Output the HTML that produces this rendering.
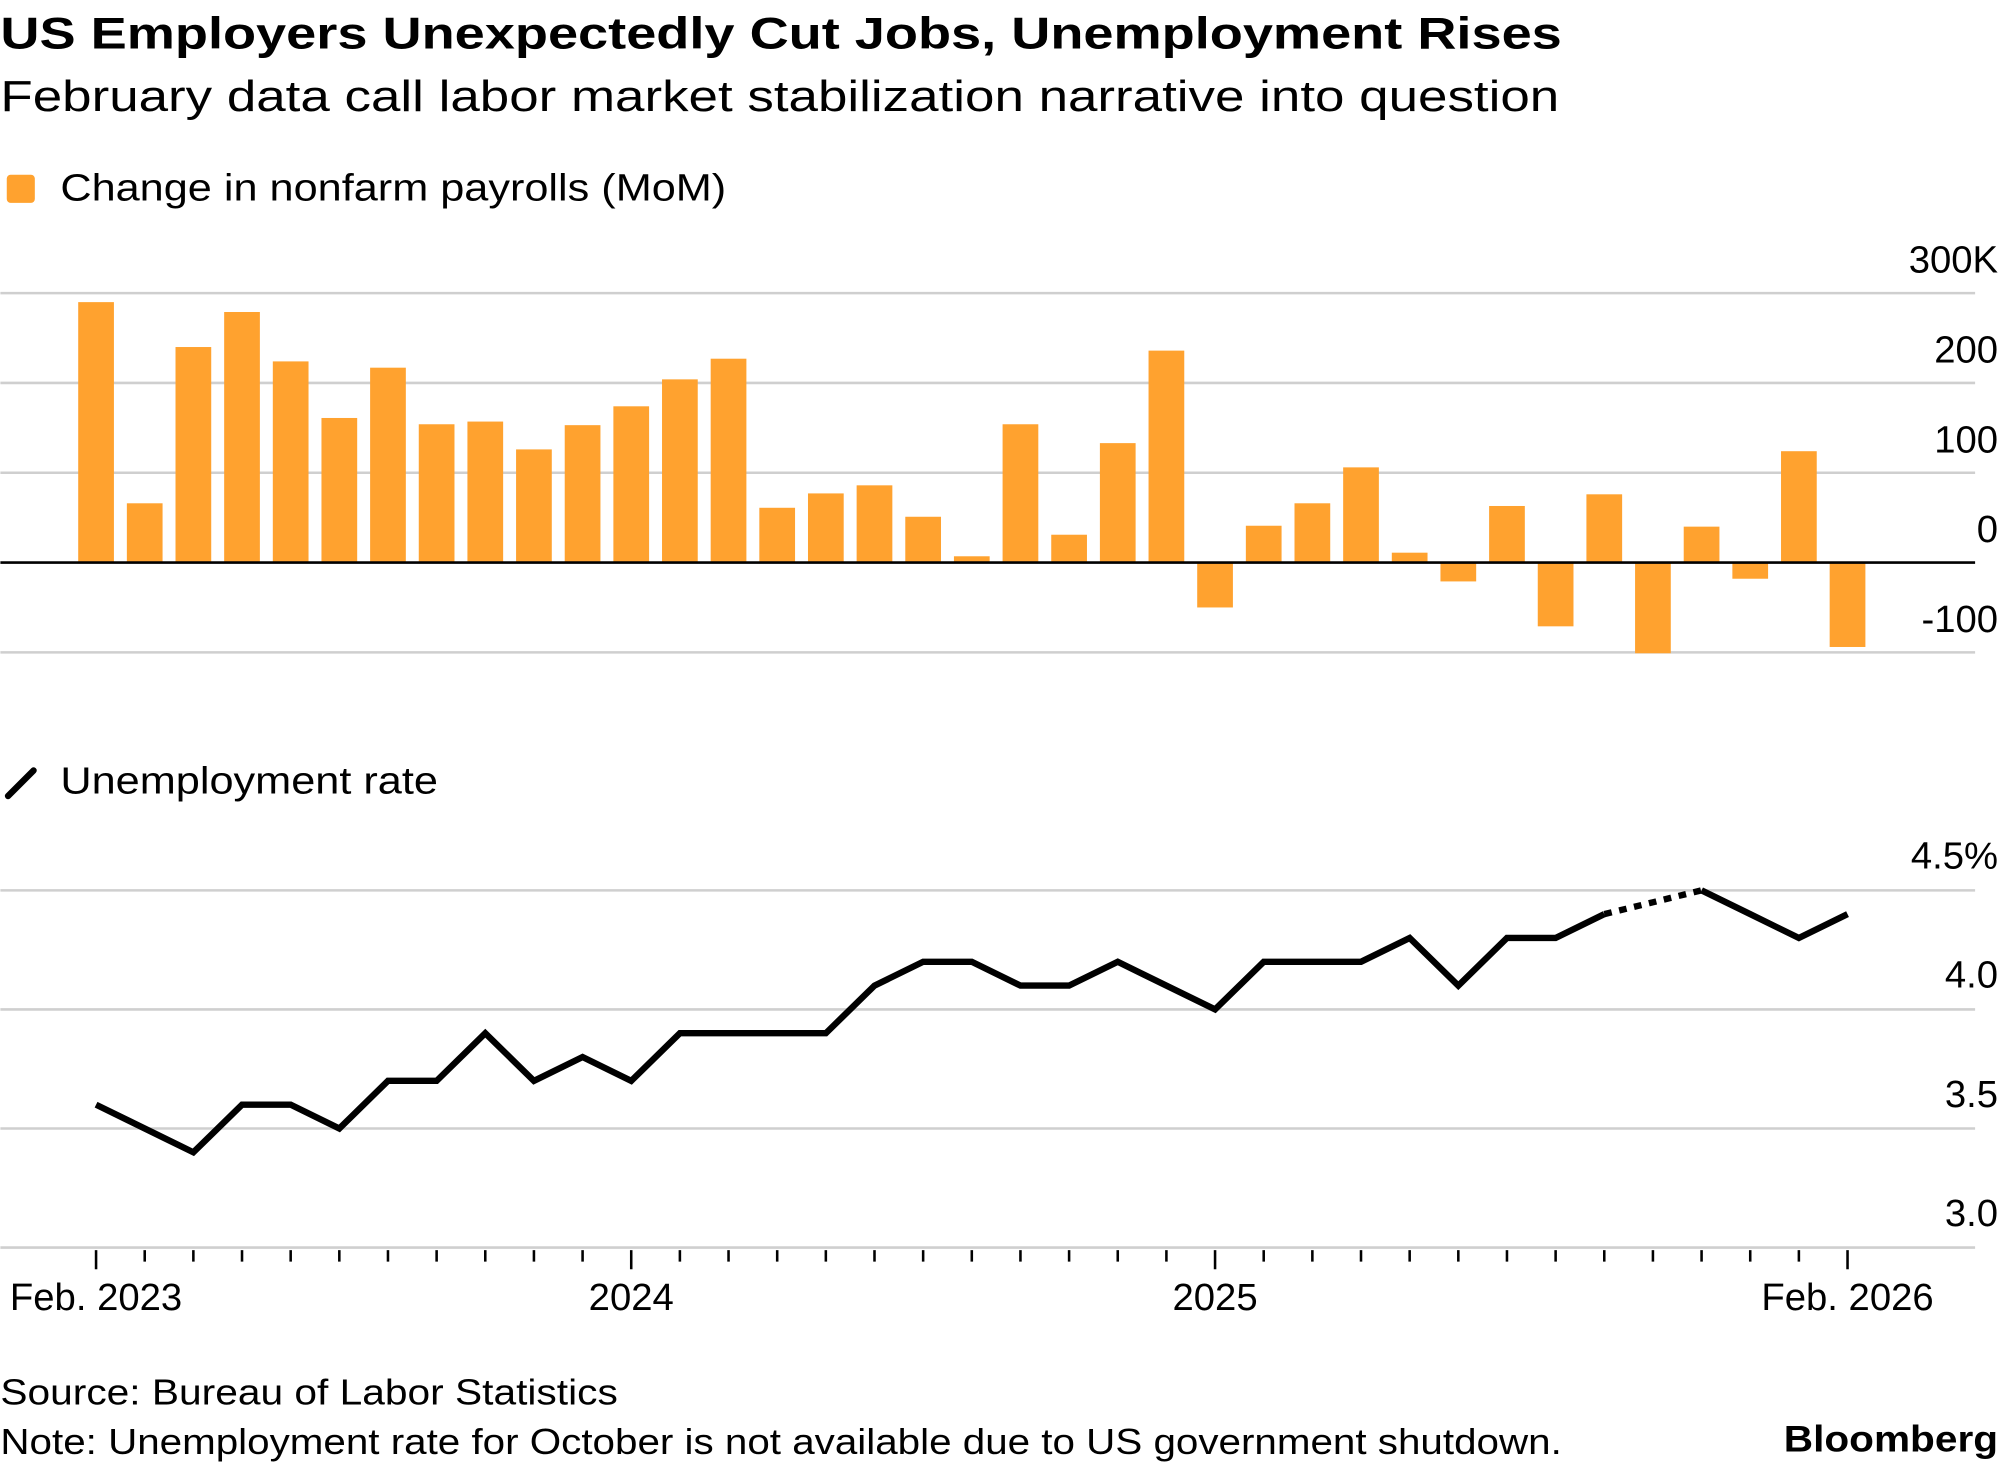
<!DOCTYPE html>
<html><head><meta charset="utf-8"><style>
html,body{margin:0;padding:0;background:#fff;}
svg{display:block;font-family:"Liberation Sans",Arial,sans-serif;}
</style></head><body>
<svg id="chart" width="2001" height="1467" viewBox="0 0 1568 1150" xmlns="http://www.w3.org/2000/svg">
<text x="0" y="38" font-size="35" font-weight="bold" textLength="1224" lengthAdjust="spacingAndGlyphs">US Employers Unexpectedly Cut Jobs, Unemployment Rises</text>
<text x="0" y="87" font-size="34" textLength="1222" lengthAdjust="spacingAndGlyphs">February data call labor market stabilization narrative into question</text>
<rect x="5" y="137" width="22" height="22" rx="3" fill="#FFA22F"/>
<text x="47" y="157" font-size="30" textLength="522" lengthAdjust="spacingAndGlyphs">Change in nonfarm payrolls (MoM)</text>
<g id="bars"></g>
<line x1="6" y1="624" x2="26" y2="604" stroke="#000" stroke-width="5" stroke-linecap="round"/>
<text x="47" y="622" font-size="30" textLength="296" lengthAdjust="spacingAndGlyphs">Unemployment rate</text>
<g id="line"></g>
<text x="0" y="1101" font-size="28" textLength="484" lengthAdjust="spacingAndGlyphs">Source: Bureau of Labor Statistics</text>
<text x="0" y="1140" font-size="28" textLength="1224" lengthAdjust="spacingAndGlyphs">Note: Unemployment rate for October is not available due to US government shutdown.</text>
<text x="1566" y="1138" font-size="29" font-weight="bold" text-anchor="end" textLength="168" lengthAdjust="spacingAndGlyphs">Bloomberg</text>
</svg>
<script>
const payrolls=[290,66,240,279,224,161,217,154,157,126,153,174,204,227,61,77,86,51,7,154,31,133,236,-50,41,66,106,11,-21,63,-71,76,-101,40,-18,124,-94];
const unemp=[3.6,3.5,3.4,3.6,3.6,3.5,3.7,3.7,3.9,3.7,3.8,3.7,3.9,3.9,3.9,3.9,4.1,4.2,4.2,4.1,4.1,4.2,4.1,4.0,4.2,4.2,4.2,4.3,4.1,4.3,4.3,4.4,null,4.5,4.4,4.3,4.4];
const barTicks=[300,200,100,0,-100];
const barTickLabels=["300K","200","100","0","-100"];
const lineTicks=[4.5,4.0,3.5,3.0];
const lineTickLabels=["4.5%","4.0","3.5","3.0"];
const xLabelIdx=[0,11,23,36];
const xLabels=["Feb. 2023","2024","2025","Feb. 2026"];

const NS="http://www.w3.org/2000/svg";
const x=i=>75+i*(1448-75)/(payrolls.length-1);
const yB=v=>441-v*0.704;
const yL=v=>978-(v-3.0)*186.7;
function mk(tag,attrs,parent){const e=document.createElementNS(NS,tag);for(const k in attrs)e.setAttribute(k,attrs[k]);parent.appendChild(e);return e;}
const gb=document.getElementById('bars'),gl=document.getElementById('line');

barTicks.forEach((t,i)=>{
  if(t!==0){const l=mk('line',{x1:0,x2:1548,y1:yB(t),y2:yB(t),stroke:'#cfcfcf','stroke-width':2},gb);
  
  }
  const tx=mk('text',{x:1566,y:yB(t)-16,'font-size':30,'text-anchor':'end'},gb);
  tx.textContent=barTickLabels[i];
  
  
});
payrolls.forEach((v,i)=>{
  const y0=yB(0),y1=yB(v);
  const r=mk('rect',{x:x(i)-14,width:28,y:Math.min(y0,y1),height:Math.abs(y1-y0),fill:'#FFA22F'},gb);
  
  
});
const zl=mk('line',{x1:0,x2:1548,y1:yB(0),y2:yB(0),stroke:'#000','stroke-width':2},gb);



lineTicks.forEach((t,i)=>{
  const l=mk('line',{x1:0,x2:1548,y1:yL(t),y2:yL(t),stroke:'#cfcfcf','stroke-width':2},gl);
  
  
  const tx=mk('text',{x:1566,y:yL(t)-17,'font-size':30,'text-anchor':'end'},gl);
  tx.textContent=lineTickLabels[i];
  
  
});
unemp.forEach((v,i)=>{
  const major=xLabelIdx.includes(i);
  const t=mk('line',{x1:x(i),x2:x(i),y1:980,y2:major?995:989,stroke:'#000','stroke-width':2},gl);
  
  
});
xLabelIdx.forEach((idx,i)=>{
  const tx=mk('text',{x:x(idx),y:1027,'font-size':30,'text-anchor':'middle'},gl);
  tx.textContent=xLabels[i];
  
  
});
let seg=[];const segs=[];
unemp.forEach((v,i)=>{if(v==null){if(seg.length)segs.push(seg);seg=[];}else seg.push([x(i),yL(v)]);});
if(seg.length)segs.push(seg);
segs.forEach(s=>{
  const p=mk('polyline',{points:s.map(q=>q.join(',')).join(' '),fill:'none',stroke:'#000','stroke-width':5,'stroke-linejoin':'miter'},gl);
  
  
});
for(let i=1;i<unemp.length-1;i++){
  if(unemp[i]==null&&unemp[i-1]!=null&&unemp[i+1]!=null){
    const d=mk('line',{x1:x(i-1),y1:yL(unemp[i-1]),x2:x(i+1),y2:yL(unemp[i+1]),stroke:'#000','stroke-width':5,'stroke-dasharray':'6 6'},gl);
    
    
  }
}
</script>
</body></html>
